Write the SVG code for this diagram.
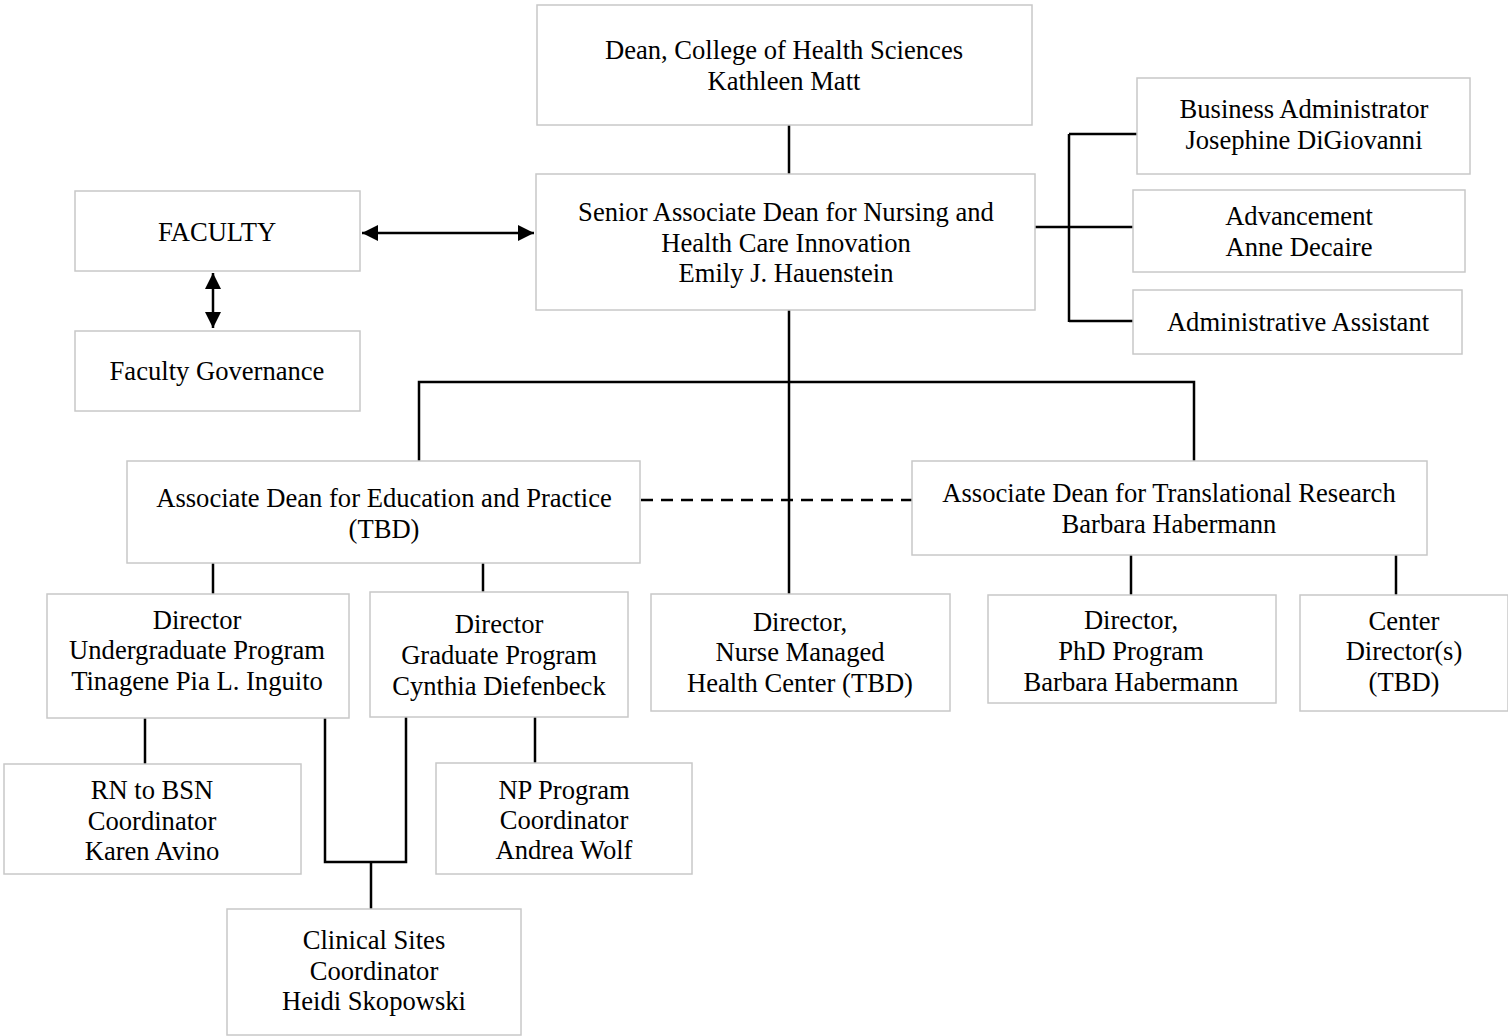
<svg xmlns="http://www.w3.org/2000/svg" width="1508" height="1036" viewBox="0 0 1508 1036">
<style>
.box{fill:#fff;stroke:#c8c8c8;stroke-width:1.5}
.t{font-family:"Liberation Serif","Times New Roman",serif;font-size:26.6px;fill:#000;text-anchor:middle}
.c{stroke:#000;stroke-width:2.5;fill:none}
.d{stroke:#000;stroke-width:2.5;fill:none;stroke-dasharray:12 8}
</style>
<defs>
<marker id="ah" viewBox="0 0 10 10" refX="10" refY="5" markerWidth="6.5" markerHeight="6.5" orient="auto-start-reverse" markerUnits="strokeWidth">
<path d="M0,0 L10,5 L0,10 z" fill="#000"/>
</marker>
</defs>
<rect width="1508" height="1036" fill="#fff"/>
<g id="connectors">
<line class="c" x1="789" y1="125" x2="789" y2="174"/>
<line class="c" x1="362" y1="233" x2="534" y2="233" marker-start="url(#ah)" marker-end="url(#ah)"/>
<line class="c" x1="213" y1="273" x2="213" y2="328" marker-start="url(#ah)" marker-end="url(#ah)"/>
<polyline class="c" points="1035,227 1069,227"/>
<line class="c" x1="1069" y1="134" x2="1069" y2="322"/>
<line class="c" x1="1069" y1="134" x2="1137" y2="134"/>
<line class="c" x1="1069" y1="227" x2="1133" y2="227"/>
<line class="c" x1="1069" y1="321" x2="1133" y2="321"/>
<line class="c" x1="789" y1="310" x2="789" y2="594"/>
<polyline class="c" points="419,461 419,382 1194,382 1194,461"/>
<line class="d" x1="641" y1="500" x2="912" y2="500"/>
<line class="c" x1="213" y1="563" x2="213" y2="594"/>
<line class="c" x1="483" y1="563" x2="483" y2="592"/>
<line class="c" x1="1131" y1="555" x2="1131" y2="595"/>
<line class="c" x1="1396" y1="555" x2="1396" y2="595"/>
<line class="c" x1="145" y1="718" x2="145" y2="764"/>
<line class="c" x1="535" y1="717" x2="535" y2="763"/>
<polyline class="c" points="325,718 325,862 406,862 406,717"/>
<line class="c" x1="371" y1="862" x2="371" y2="909"/>
</g>
<g id="dean"><rect class="box" x="537" y="5" width="495" height="120"/>
<text class="t" x="784" y="59">Dean, College of Health Sciences</text>
<text class="t" x="784" y="90">Kathleen Matt</text></g>
<g id="senior"><rect class="box" x="536" y="174" width="499" height="136"/>
<text class="t" x="786" y="221">Senior Associate Dean for Nursing and</text>
<text class="t" x="786" y="252">Health Care Innovation</text>
<text class="t" x="786" y="282">Emily J. Hauenstein</text></g>
<g id="business"><rect class="box" x="1137" y="78" width="333" height="96"/>
<text class="t" x="1304" y="118">Business Administrator</text>
<text class="t" x="1304" y="149">Josephine DiGiovanni</text></g>
<g id="advancement"><rect class="box" x="1133" y="190" width="332" height="82"/>
<text class="t" x="1299" y="225">Advancement</text>
<text class="t" x="1299" y="256">Anne Decaire</text></g>
<g id="adminasst"><rect class="box" x="1133" y="290" width="329" height="64"/>
<text class="t" x="1298" y="331">Administrative Assistant</text></g>
<g id="faculty"><rect class="box" x="75" y="191" width="285" height="80"/>
<text class="t" x="217" y="241">FACULTY</text></g>
<g id="governance"><rect class="box" x="75" y="331" width="285" height="80"/>
<text class="t" x="217" y="380">Faculty Governance</text></g>
<g id="assocedu"><rect class="box" x="127" y="461" width="513" height="102"/>
<text class="t" x="384" y="507">Associate Dean for Education and Practice</text>
<text class="t" x="384" y="538">(TBD)</text></g>
<g id="assoctrans"><rect class="box" x="912" y="461" width="515" height="94"/>
<text class="t" x="1169" y="502">Associate Dean for Translational Research</text>
<text class="t" x="1169" y="533">Barbara Habermann</text></g>
<g id="dirundergrad"><rect class="box" x="47" y="594" width="302" height="124"/>
<text class="t" x="197" y="629">Director</text>
<text class="t" x="197" y="659">Undergraduate Program</text>
<text class="t" x="197" y="690">Tinagene Pia L. Inguito</text></g>
<g id="dirgrad"><rect class="box" x="370" y="592" width="258" height="125"/>
<text class="t" x="499" y="633">Director</text>
<text class="t" x="499" y="664">Graduate Program</text>
<text class="t" x="499" y="695">Cynthia Diefenbeck</text></g>
<g id="dirnurse"><rect class="box" x="651" y="594" width="299" height="117"/>
<text class="t" x="800" y="631">Director,</text>
<text class="t" x="800" y="661">Nurse Managed</text>
<text class="t" x="800" y="692">Health Center (TBD)</text></g>
<g id="dirphd"><rect class="box" x="988" y="595" width="288" height="108"/>
<text class="t" x="1131" y="629">Director,</text>
<text class="t" x="1131" y="660">PhD Program</text>
<text class="t" x="1131" y="691">Barbara Habermann</text></g>
<g id="center"><rect class="box" x="1300" y="595" width="208" height="116"/>
<text class="t" x="1404" y="630">Center</text>
<text class="t" x="1404" y="660">Director(s)</text>
<text class="t" x="1404" y="691">(TBD)</text></g>
<g id="rnbsn"><rect class="box" x="4" y="764" width="297" height="110"/>
<text class="t" x="152" y="799">RN to BSN</text>
<text class="t" x="152" y="830">Coordinator</text>
<text class="t" x="152" y="860">Karen Avino</text></g>
<g id="np"><rect class="box" x="436" y="763" width="256" height="111"/>
<text class="t" x="564" y="799">NP Program</text>
<text class="t" x="564" y="829">Coordinator</text>
<text class="t" x="564" y="859">Andrea Wolf</text></g>
<g id="clinical"><rect class="box" x="227" y="909" width="294" height="126"/>
<text class="t" x="374" y="949">Clinical Sites</text>
<text class="t" x="374" y="980">Coordinator</text>
<text class="t" x="374" y="1010">Heidi Skopowski</text></g>
</svg>
